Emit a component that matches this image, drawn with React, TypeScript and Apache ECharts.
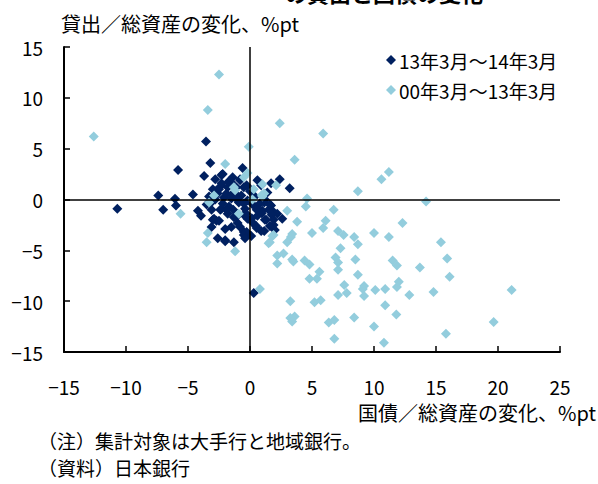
import React, { useEffect, useRef } from "react";
import * as echarts from "echarts";

const FONT = '"Noto Sans CJK JP", "Noto Sans", sans-serif';

const titleText = "の貸出と国債の変化";
const yAxisTitle = "貸出／総資産の変化、%pt";
const xAxisTitle = "国債／総資産の変化、%pt";
const notes = ["（注）集計対象は大手行と地域銀行。", "（資料）日本銀行"];
const seriesNames = ["13年3月～14年3月", "00年3月～13年3月"];

const xTicks = [-15, -10, -5, 0, 5, 10, 15, 20, 25];
const yTicks = [-15, -10, -5, 0, 5, 10, 15];

// 13年3月～14年3月
const recentPoints: [number, number][] = [
  [-10.7, -0.9], [-7.4, 0.4], [-7.0, -1.0], [-6.05, 0.07], [-5.97, -0.6],
  [-5.8, 2.9], [-4.6, 0.5], [-4.2, -1.1], [-3.95, -1.6], [-3.7, 2.3],
  [-3.2, 3.6], [-3.55, 5.7], [-2.6, -3.8], [-2.0, -4.1], [-1.3, -4.2],
  [-0.6, 3.1], [-1.4, 2.2], [-2.3, 2.4], [-2.7, -2.1], [2.4, 2.0],
  [3.2, 1.1], [2.0, -3.0], [1.15, -3.1], [-2.2, 2.5], [-2.3, 1.4],
  [-1.8, 1.2], [-1.1, 1.2], [-0.5, 1.2], [-2.6, 0.6], [-2.1, 0.2],
  [-1.5, 0.1], [-0.7, 0.4], [-0.2, -0.1], [1.4, 0.7], [1.15, -0.3],
  [1.7, -0.6], [0.5, -0.8], [1.0, -1.1], [1.8, -1.1], [2.2, -1.4],
  [-2.9, -1.9], [-2.5, -2.1], [-1.8, -1.4], [-1.3, -1.75], [-0.2, -1.9],
  [0.2, -2.25], [-1.5, -2.7], [-0.5, -3.2], [0.1, -3.6], [0.9, -3.1],
  [0.3, -9.2], [-3.0, 1.0], [-2.5, 1.0], [-1.9, 0.6], [-1.2, 0.6],
  [-0.9, -0.3], [-1.7, -0.7], [-2.3, -0.9], [-0.4, -0.9], [0.4, 0.3],
  [0.6, -1.6], [1.3, -2.0], [-1.0, -2.3], [-2.0, -2.9], [0.5, -2.6],
  [-3.3, 0.3], [-0.8, 2.0], [1.6, -2.6], [2.6, -1.9], [-3.5, -0.5],
  [-1.5, 1.7], [0.0, 0.8], [0.9, 1.4], [-3.1, -2.7], [0.6, 1.9],
  [1.7, 1.6], [-1.0, 0.0], [-0.3, -1.4], [0.8, -0.4], [-2.8, 2.0],
  [-3.0, -2.0], [-0.8, -2.7], [-0.27, -3.2], [0.54, -2.8], [1.9, -2.5],
  [-2.0, -4.0], [-0.5, -3.5], [-0.4, -3.8], [1.5, -1.0], [1.75, -1.5],
  [1.9, -2.0], [1.2, 0.0], [1.6, -0.5], [-2.2, -0.4], [-1.9, -1.0],
  [-2.4, -1.0], [-1.5, 0.44], [-1.1, 0.1], [-0.5, -0.4], [-2.7, 0.9],
  [-2.3, 1.6], [-1.75, 1.75], [-0.8, 1.9], [-0.27, 1.4], [0.14, 0.9],
  [0.54, -1.0], [0.95, -1.36], [1.2, -2.0], [-0.5, -1.5], [0.14, -1.85],
  [-1.35, -1.0], [-1.1, -1.7], [0.14, -0.4], [-3.2, -0.4], [-2.8, 0.0],
  [-3.1, -1.0],
];

// 00年3月～13年3月
const pastPoints: [number, number][] = [
  [-2.5, 12.3], [-3.4, 8.8], [-12.6, 6.2], [-0.1, 5.2], [-2.0, 3.5],
  [-5.6, -1.4], [-3.4, -3.3], [-3.5, -4.2], [-1.2, -5.1], [-3.3, -0.3],
  [-2.9, 0.4], [-1.2, 0.9], [-0.5, 2.2], [0.3, 1.0], [0.2, 0.0],
  [1.0, 1.5], [1.0, 0.3], [-0.9, -1.4], [1.8, -3.6], [1.6, -4.2],
  [-0.2, 2.6], [1.15, 0.6], [-1.3, 1.2], [2.1, 1.4], [2.4, 7.5],
  [5.9, 6.5], [3.6, 3.9], [11.2, 2.7], [10.6, 2.0], [8.7, 0.8],
  [4.6, 0.1], [14.2, -0.2], [4.5, -0.7], [3.0, -1.1], [6.75, -1.0],
  [3.8, -2.2], [12.3, -2.3], [6.1, -2.1], [5.9, -2.8], [5.0, -3.3],
  [7.1, -3.1], [7.55, -3.5], [8.4, -3.7], [10.0, -3.3], [11.2, -3.7],
  [3.4, -3.4], [1.9, -3.5], [15.4, -4.2], [8.7, -4.4], [3.3, -3.7],
  [3.0, -4.2], [1.5, -4.3], [7.3, -4.8], [2.2, -5.5], [2.7, -5.3],
  [2.2, -6.3], [3.5, -6.1], [4.4, -6.0], [4.8, -6.4], [6.9, -5.7],
  [7.1, -6.2], [7.1, -6.9], [8.5, -5.9], [11.5, -6.0], [11.85, -6.5],
  [13.7, -6.7], [15.9, -5.8], [16.1, -7.6], [8.7, -7.4], [5.6, -7.1],
  [5.4, -7.8], [4.8, -7.8], [7.6, -8.4], [7.8, -9.2], [7.1, -9.4],
  [9.2, -8.5], [9.1, -8.8], [9.2, -9.5], [10.1, -8.9], [10.9, -8.8],
  [12.0, -8.1], [11.85, -8.6], [12.85, -9.4], [14.8, -9.1], [21.1, -8.9],
  [0.8, -8.8], [3.25, -10.0], [5.2, -10.1], [5.7, -9.9], [10.9, -10.4],
  [11.8, -11.3], [3.25, -11.65], [3.6, -11.5], [3.4, -12.0], [6.35, -12.1],
  [6.8, -11.85], [8.4, -11.6], [10.0, -12.5], [19.65, -12.05], [15.8, -13.2],
  [6.8, -13.7], [10.8, -14.1], [3.4, -5.9], [0.95, 0.44],
];

const DARK = "#002060";
const LIGHT = "#93CDDD";

const fmt = (v: number) => String(v).replace("-", "−");

export default function App() {
  const ref = useRef<HTMLDivElement>(null);
  useEffect(() => {
    if (!ref.current) return;
    const chart = echarts.init(ref.current, null, { renderer: "svg" });
    chart.setOption({
      animation: false,
      backgroundColor: "#ffffff",
      textStyle: { fontFamily: FONT },
      grid: { left: 64, right: 38, top: 47, bottom: 132 },
      legend: {
        orient: "vertical",
        left: 381,
        top: 45,
        itemWidth: 10,
        itemHeight: 10,
        itemGap: 10,
        icon: "diamond",
        textStyle: { fontFamily: FONT, fontSize: 19, color: "#000", lineHeight: 20, padding: [0, 0, 0, -2] },
        data: seriesNames,
      },
      xAxis: {
        type: "value",
        min: xTicks[0],
        max: xTicks[xTicks.length - 1],
        interval: 5,
        axisLine: { onZero: false, lineStyle: { color: "#000", width: 2 } },
        axisTick: { inside: true, length: 6, lineStyle: { color: "#000", width: 1.5 } },
        axisLabel: { formatter: fmt, color: "#000", fontSize: 19, margin: 25, fontFamily: FONT },
        splitLine: { show: false },
      },
      yAxis: {
        type: "value",
        min: yTicks[0],
        max: yTicks[yTicks.length - 1],
        interval: 5,
        axisLine: { show: true, onZero: false, lineStyle: { color: "#000", width: 2 } },
        axisTick: { show: true, inside: true, length: 6, lineStyle: { color: "#000", width: 1.5 } },
        axisLabel: { formatter: fmt, color: "#000", fontSize: 19, margin: 21, fontFamily: FONT },
        splitLine: { show: false },
      },
      series: [
        {
          type: "line",
          data: [],
          symbol: "none",
          z: 1,
          silent: true,
          markLine: {
            silent: true,
            symbol: "none",
            label: { show: false },
            lineStyle: { color: "#000", width: 1.5, type: "solid" },
            data: [{ xAxis: 0 }, { yAxis: 0 }],
          },
        },
        {
          name: seriesNames[0],
          type: "scatter",
          symbol: "diamond",
          symbolSize: 10,
          z: 2,
          itemStyle: { color: DARK, opacity: 1 },
          data: recentPoints,
        },
        {
          name: seriesNames[1],
          type: "scatter",
          symbol: "diamond",
          symbolSize: 10,
          z: 3,
          itemStyle: { color: LIGHT, opacity: 1 },
          data: pastPoints,
        },
      ],
      graphic: [
        {
          type: "text",
          left: 285,
          top: -19,
          style: { text: titleText, fontSize: 22, fontWeight: "bold", fill: "#000", fontFamily: FONT },
        },
        {
          type: "text",
          left: 61,
          top: 13,
          style: { text: yAxisTitle, fontSize: 20, fill: "#000", fontFamily: FONT },
        },
        {
          type: "text",
          right: 2,
          top: 402,
          style: { text: xAxisTitle, fontSize: 20, fill: "#000", fontFamily: FONT },
        },
        {
          type: "text",
          left: 38,
          top: 430,
          style: { text: notes[0], fontSize: 19, lineHeight: 21, fill: "#000", fontFamily: FONT },
        },
        {
          type: "text",
          left: 38,
          top: 457,
          style: { text: notes[1], fontSize: 19, lineHeight: 21, fill: "#000", fontFamily: FONT },
        },
      ],
    });
    return () => chart.dispose();
  }, []);
  return <div ref={ref} style={{ width: 598, height: 484, position: "absolute", left: 0, top: 0 }} />;
}
